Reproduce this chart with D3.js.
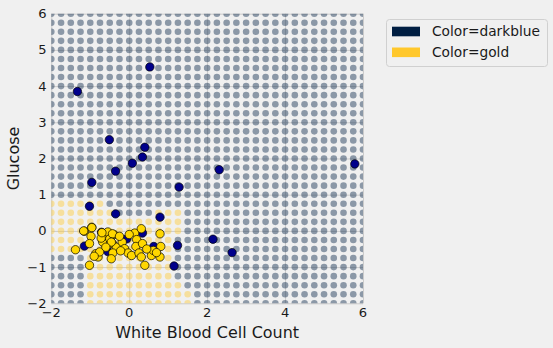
<!DOCTYPE html>
<html>
<head>
<meta charset="utf-8">
<script src="https://cdn.jsdelivr.net/npm/d3@7"></script>
<style>
  body { margin: 0; background: #f0f0f0; }
  svg { display: block; font-family: "DejaVu Sans", sans-serif; }
</style>
</head>
<body>
<svg width="553" height="348"></svg>
<script>
'use strict'

// Standardized points: white blood cell count (x) vs glucose (y)
const blueX = [-1.33, 0.53, -0.51, 0.40, 0.34, 0.08, -0.35, -0.96, 1.28, 2.31, 5.79, -1.02,
  -0.35, 0.79, -0.71, 0.34, -0.06, -1.15, -0.55, 0.63, 1.24, 2.15, 2.64, 1.15];
const blueY = [3.85, 4.53, 2.52, 2.31, 2.04, 1.87, 1.65, 1.34, 1.21, 1.69, 1.85, 0.68,
  0.47, 0.38, -0.04, -0.06, -0.22, -0.42, -0.57, -0.43, -0.40, -0.23, -0.60, -0.97];

const goldX = [-1.15, -0.96, -1.38, -0.98, -1.02, -0.86, -0.80, -0.76, -0.68, -0.63, -0.55, -0.50,
  -0.43, -0.39, -0.33, -0.42, -0.46, -1.02, -0.43, -0.46, -0.18, -0.12, -0.03, 0.06,
  0.14, 0.19, 0.17, 0.25, 0.31, 0.34, 0.31, 0.40, 0.57, 0.62, 0.79, 0.81,
  0.79, -1.17, -0.96, -0.60, -0.72, -0.25, 0.00, -0.22, 0.70, 0.45, -0.90, -0.70];
const goldY = [-0.01, 0.10, -0.52, -0.15, -0.35, -0.63, -0.72, -0.58, -0.31, -0.12, -0.03, -0.22,
  -0.35, -0.10, -0.45, -0.61, -0.77, -0.95, -0.08, -0.31, -0.31, -0.49, -0.61, -0.68,
  -0.06, -0.24, -0.43, -0.61, -0.72, -0.35, 0.06, -0.95, -0.68, -0.54, -0.08, -0.43,
  -0.72, 0.00, 0.09, -0.45, -0.20, -0.15, -0.10, -0.55, -0.60, -0.50, -0.70, -0.05];

// Background grid classes: rows (glucose) where the class is gold, with x spans
const goldRowY = [0.75, 0.5, 0.5, 0.25, 0, -0.25, -0.5, -0.75, -1, -1.25, -1.5, -1.75, -2];
const goldRowFrom = [-2, -2, 0.75, -2, -2, -2, -2, -1, -1, -1, -1, -1, -1];
const goldRowTo = [-0.75, -0.5, 1.25, 1.25, 1.25, 1, 1, 1, 1, 1, 1.25, 1.5, 1.5];

const xTicks = [-2, 0, 2, 4, 6];
const yTicks = [-2, -1, 0, 1, 2, 3, 4, 5, 6];
const legendLabels = ['Color=darkblue', 'Color=gold'];

const NAVY = 'rgb(0,30,66)';
const GOLD = 'rgb(255,200,44)';

const svg = d3.select('svg');
const x = d3.scaleLinear().domain([-2, 6]).range([51.3, 363]);
const y = d3.scaleLinear().domain([-2, 6]).range([303.3, 13.7]);

// scale a text's font so its run is the given width
function fitWidth(sel, size, width) {
  sel.attr('font-size', size);
  const w = sel.node().getComputedTextLength();
  sel.attr('font-size', size * width / w);
  return size * width / w;
}

svg.append('defs').append('clipPath').attr('id', 'plot')
  .append('rect')
  .attr('x', x(-2)).attr('y', y(6))
  .attr('width', x(6) - x(-2)).attr('height', y(-2) - y(6));

// Grid lines
svg.append('g')
  .attr('transform', `translate(0,${y(-2)})`)
  .call(d3.axisBottom(x).tickValues(xTicks).tickSize(-(y(-2) - y(6))).tickFormat(''))
  .call(g => g.select('.domain').remove())
  .call(g => g.selectAll('line').attr('stroke', '#cbcbcb'));
svg.append('g')
  .attr('transform', `translate(${x(-2)},0)`)
  .call(d3.axisLeft(y).tickValues(yTicks).tickSize(-(x(6) - x(-2))).tickFormat(''))
  .call(g => g.select('.domain').remove())
  .call(g => g.selectAll('line').attr('stroke', '#cbcbcb'));

// Tick labels
const fmt = d => d < 0 ? '\u2212' + Math.abs(d) : String(d);
const probe = svg.append('text').text(fmt(-2));
const tickSize = fitWidth(probe, 13, 19.3);
probe.remove();
svg.append('g').selectAll('text')
  .data(xTicks).join('text')
  .attr('x', d => x(d)).attr('y', 316.5)
  .attr('text-anchor', 'middle')
  .attr('font-size', tickSize).attr('fill', '#1a1a1a')
  .text(fmt);
svg.append('g').selectAll('text')
  .data(yTicks).join('text')
  .attr('x', 46.5).attr('y', d => y(d))
  .attr('text-anchor', 'end').attr('dominant-baseline', 'central')
  .attr('font-size', tickSize).attr('fill', '#1a1a1a')
  .text(fmt);

// Decision grid
const steps = d3.range(-2, 6.001, 0.25);
const grid = [];
for (const gx of steps) {
  for (const gy of steps) {
    let gold = false;
    goldRowY.forEach((ry, i) => {
      if (Math.abs(ry - gy) < 1e-6 && gx >= goldRowFrom[i] - 1e-6 && gx <= goldRowTo[i] + 1e-6) gold = true;
    });
    grid.push({x: gx, y: gy, gold});
  }
}
const plot = svg.append('g').attr('clip-path', 'url(#plot)');
plot.append('g').selectAll('circle')
  .data(grid).join('circle')
  .attr('cx', d => x(d.x)).attr('cy', d => y(d.y))
  .attr('r', 3.3)
  .attr('fill', d => d.gold ? GOLD : NAVY)
  .attr('fill-opacity', 0.42);

// Points
const blue = blueX.map((v, i) => ({x: v, y: blueY[i]}));
const gold = goldX.map((v, i) => ({x: v, y: goldY[i]}));
plot.append('g').selectAll('circle')
  .data(blue).join('circle')
  .attr('cx', d => x(d.x)).attr('cy', d => y(d.y))
  .attr('r', 4.2)
  .attr('fill', 'darkblue').attr('stroke', '#000').attr('stroke-width', 0.7);
plot.append('g').selectAll('circle')
  .data(gold).join('circle')
  .attr('cx', d => x(d.x)).attr('cy', d => y(d.y))
  .attr('r', 4.2)
  .attr('fill', 'gold').attr('stroke', '#000').attr('stroke-width', 0.7);

// Axis titles
const xTitle = svg.append('text')
  .attr('x', (x(-2) + x(6)) / 2).attr('y', 338)
  .attr('text-anchor', 'middle').attr('fill', '#1a1a1a')
  .text('White Blood Cell Count');
const titleSize = fitWidth(xTitle, 16, 184);
svg.append('text')
  .attr('transform', `translate(18.5,${(y(-2) + y(6)) / 2}) rotate(-90)`)
  .attr('text-anchor', 'middle').attr('font-size', titleSize).attr('fill', '#1a1a1a')
  .text('Glucose');

// Legend
const legend = svg.append('g');
legend.append('rect')
  .attr('x', 386.5).attr('y', 19.5).attr('width', 161).attr('height', 47)
  .attr('rx', 3).attr('fill', '#f0f0f0').attr('stroke', '#d0d0d0');
const items = legend.selectAll('g.item')
  .data(legendLabels).join('g').attr('class', 'item')
  .attr('transform', (d, i) => `translate(392,${26.7 + i * 20.8})`);
items.append('rect')
  .attr('width', 28).attr('height', 9.6)
  .attr('fill', (d, i) => i === 0 ? NAVY : GOLD);
const labels = items.append('text')
  .attr('x', 40).attr('y', 9.6)
  .attr('fill', '#1a1a1a')
  .text(d => d);
const legendSize = fitWidth(d3.select(labels.nodes()[0]), 12.3, 108);
labels.attr('font-size', legendSize);
</script>
</body>
</html>
